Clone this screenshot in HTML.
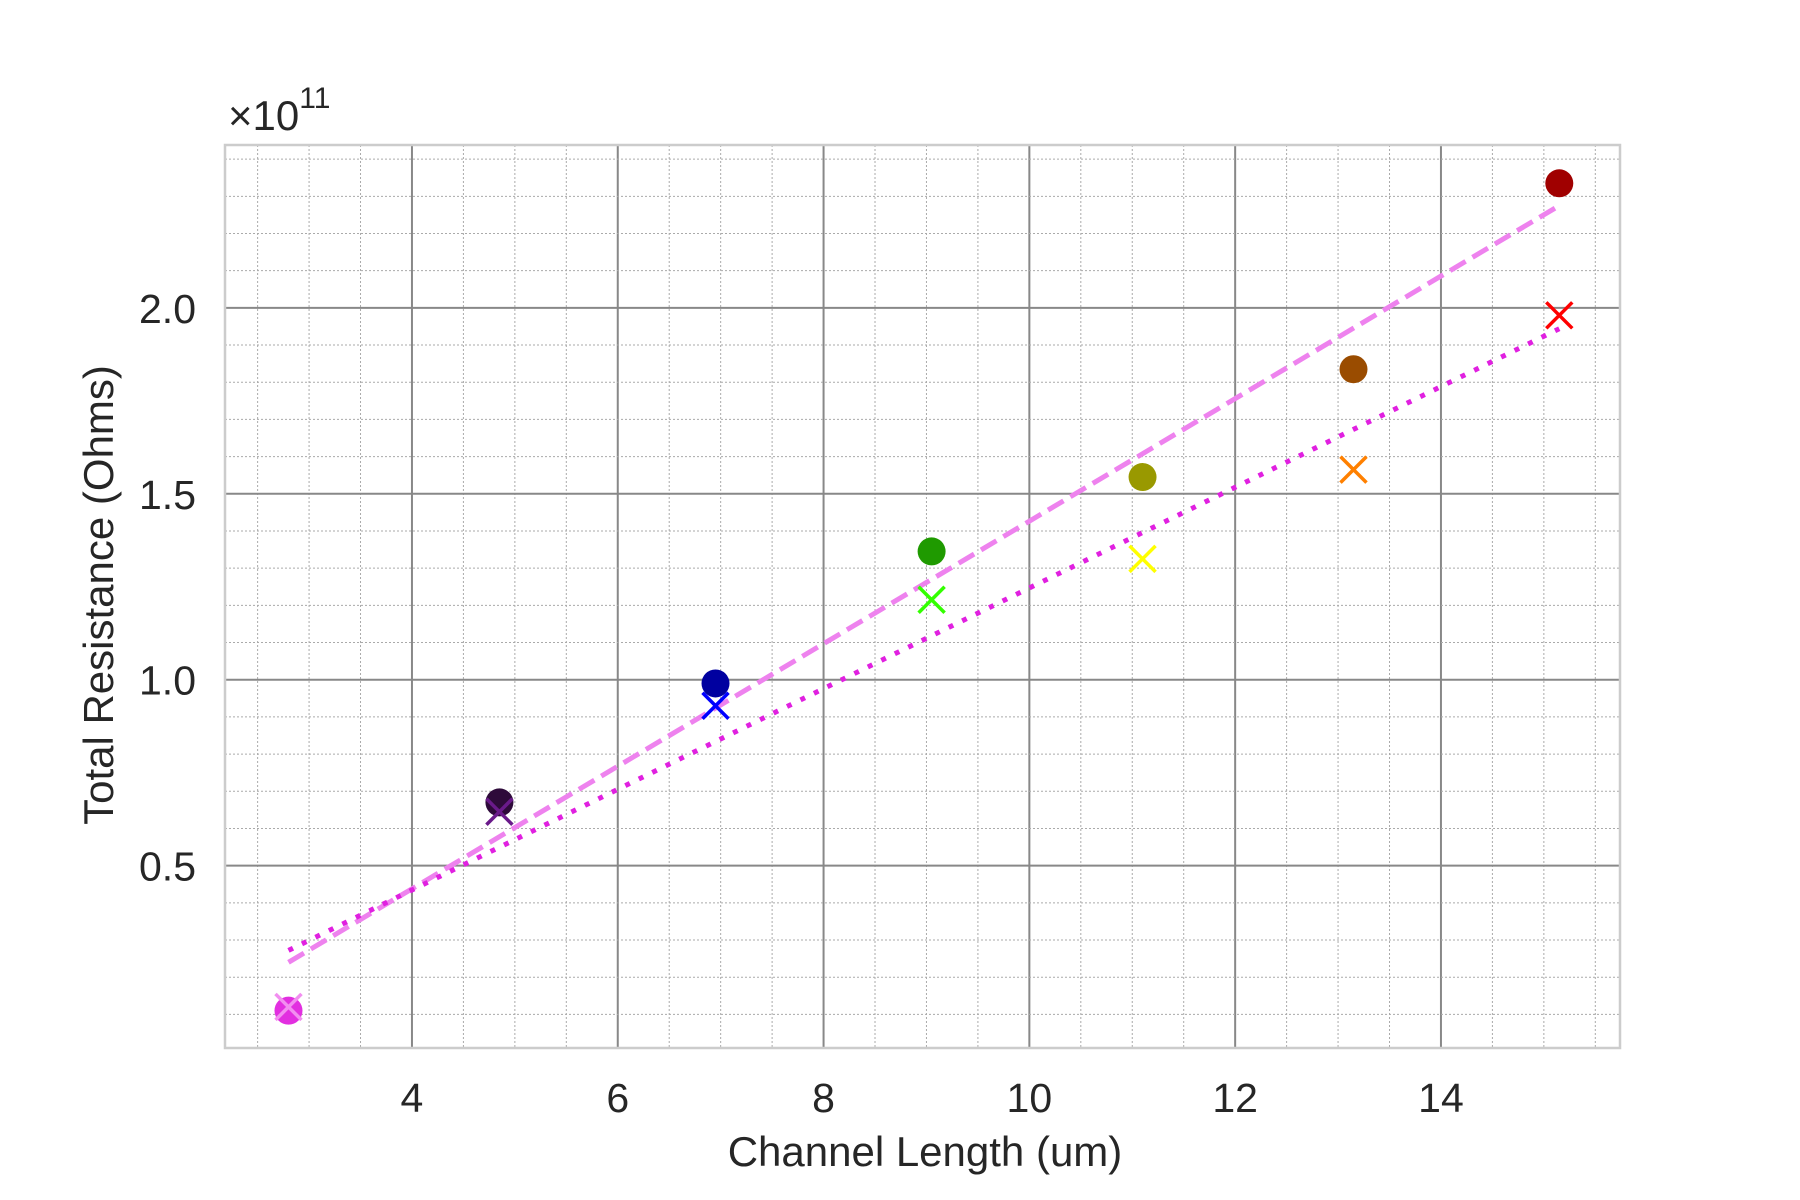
<!DOCTYPE html>
<html><head><meta charset="utf-8"><style>
html,body{margin:0;padding:0;background:#fff;}
svg{display:block;font-family:"Liberation Sans",Arial,sans-serif;}
</style></head><body>
<svg id="chart" width="1800" height="1200" viewBox="0 0 1800 1200">
<rect width="1800" height="1200" fill="#fff"/>
<g id="grid"></g>
<g id="lines"></g>
<g id="marks"></g>
<rect x="225" y="145" width="1395" height="903" fill="none" stroke="#cccccc" stroke-width="2.5"/>
<g id="ticks"></g>
<text x="228" y="130" font-size="42" fill="#262626">×10<tspan font-size="30" dy="-22">11</tspan></text>
<text x="925" y="1166" font-size="42" fill="#262626" text-anchor="middle">Channel Length (um)</text>
<text transform="translate(113,595) rotate(-90)" font-size="42" fill="#262626" text-anchor="middle">Total Resistance (Ohms)</text>
</svg>
<script>
const xs = [2.8, 4.85, 6.95, 9.05, 11.1, 13.15, 15.15];
const totalR = [0.11, 0.67, 0.99, 1.345, 1.545, 1.835, 2.335];
const altR = [0.12, 0.645, 0.93, 1.215, 1.325, 1.565, 1.98];
const circleColors = ['#e22fe0','#2e0a3a','#0000a0','#1f9a00','#999900','#9a4c00','#a00000'];
const crossColors = ['#f28ef0','#6a1a8a','#0000ff','#33ff00','#ffff00','#ff8000','#ff0000'];
const fitDashX = [2.8, 15.15];
const fitDashY = [0.24, 2.275];
const fitDotX = [2.8, 15.15];
const fitDotY = [0.272, 1.944];
const xTicks = [4, 6, 8, 10, 12, 14];
const yTicks = [0.5, 1.0, 1.5, 2.0];
const yTickLabels = ['0.5','1.0','1.5','2.0'];

const L=225,R=1620,T=145,B=1048;
const X0=2.183,X1=15.74,Y0=0.0096,Y1=2.438;
const sx=v=>L+(v-X0)/(X1-X0)*(R-L);
const sy=v=>B-(v-Y0)/(Y1-Y0)*(B-T);
const NS='http://www.w3.org/2000/svg';
function mk(tag,attrs,parent){const e=document.createElementNS(NS,tag);for(const k in attrs)e.setAttribute(k,attrs[k]);parent.appendChild(e);return e;}
const grid=document.getElementById('grid');
for(let v=2.5;v<X1;v+=0.5){
  const major=Math.abs(v/2-Math.round(v/2))<1e-6;
  const ln=mk('line',{x1:sx(v),x2:sx(v),y1:T,y2:B,stroke:major?'#888':'#aaa','stroke-width':major?2:1,'stroke-dasharray':major?'none':'2,2'},grid);
  
  
}
for(let i=1;i<=24;i++){
  const v=i/10;
  const major=i%5===0;
  const ln=mk('line',{x1:L,x2:R,y1:sy(v),y2:sy(v),stroke:major?'#888':'#aaa','stroke-width':major?2:1,'stroke-dasharray':major?'none':'2,2'},grid);
  
  
}
const lines=document.getElementById('lines');
const d1=mk('line',{x1:sx(fitDashX[0]),y1:sy(fitDashY[0]),x2:sx(fitDashX[1]),y2:sy(fitDashY[1]),stroke:'#ee82ee','stroke-width':5,'stroke-dasharray':'18,8'},lines);


const d2=mk('line',{x1:sx(fitDotX[0]),y1:sy(fitDotY[0]),x2:sx(fitDotX[1]),y2:sy(fitDotY[1]),stroke:'#e020e0','stroke-width':5,'stroke-dasharray':'5,10'},lines);


const marks=document.getElementById('marks');
xs.forEach((x,i)=>{
  const c=mk('circle',{cx:sx(x),cy:sy(totalR[i]),r:14,fill:circleColors[i]},marks);
  
  
});
xs.forEach((x,i)=>{
  const cx=sx(x),cy=sy(altR[i]),s=13;
  const p=mk('path',{d:`M${cx-s},${cy-s}L${cx+s},${cy+s}M${cx-s},${cy+s}L${cx+s},${cy-s}`,stroke:crossColors[i],'stroke-width':3.5,fill:'none'},marks);
  
  
});
const ticks=document.getElementById('ticks');
xTicks.forEach(v=>{
  const t=mk('text',{x:sx(v),y:1112,'font-size':41,fill:'#262626','text-anchor':'middle'},ticks);
  t.textContent=String(v);
  
  
});
yTicks.forEach((v,i)=>{
  const t=mk('text',{x:196,y:sy(v)+15,'font-size':41,fill:'#262626','text-anchor':'end'},ticks);
  t.textContent=yTickLabels[i];
  
  
});
</script>
</body></html>
